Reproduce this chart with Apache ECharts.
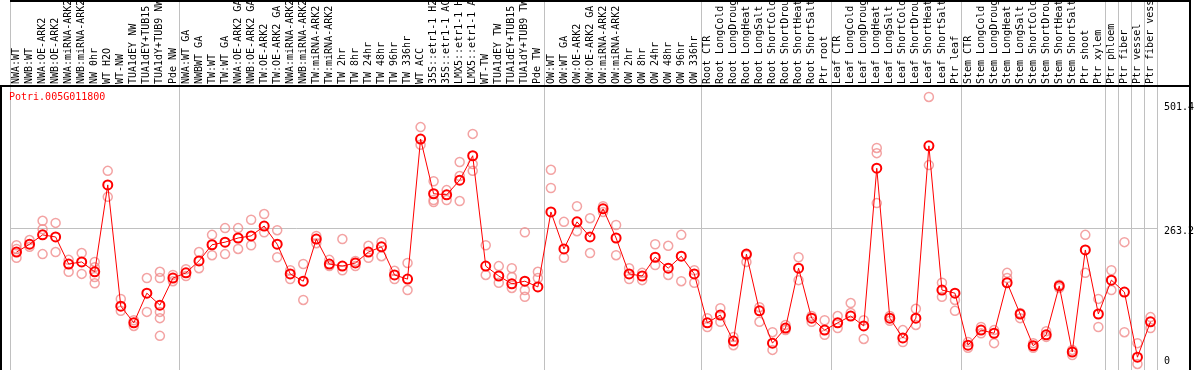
<!DOCTYPE html>
<html><head><meta charset="utf-8">
<script src="https://cdn.jsdelivr.net/npm/echarts@6/dist/echarts.min.js"></script>
<style>html,body{margin:0;padding:0;background:#fff}#c{width:1194px;height:370px}</style>
</head><body><div id="c"></div>
<script>
const geneTitle = 'Potri.005G011800';
const categories = ['NWA:WT','NWB:WT','NWA:OE-ARK2','NWB:OE-ARK2','NWA:miRNA-ARK2','NWB:miRNA-ARK2','NW 0hr','WT H2O','WT-NW','TUA1dEY NW','TUA1dEY+TUB15 NW','TUA1dY+TUB9 NW','Pde NW','NWA:WT GA','NWBWT GA','TW:WT','TW:WT GA','NWA:OE-ARK2 GA','NWB:OE-ARK2 GA','TW:OE-ARK2','TW:OE-ARK2 GA','NWA:miRNA-ARK2','NWB:miRNA-ARK2','TW:miRNA-ARK2','TW:miRNA-ARK2','TW 2hr','TW 8hr','TW 24hr','TW 48hr','TW 96hr','TW 336hr','WT ACC','35S::etr1-1 H2O','35S::etr1-1 ACC','LMX5::etr1-1 H2O','LMX5::etr1-1 ACC','WT-TW','TUA1dEY TW','TUA1dEY+TUB15 TW','TUA1dY+TUB9 TW','Pde TW','OW:WT','OW:WT GA','OW:OE-ARK2','OW:OE-ARK2 GA','OW:miRNA-ARK2','OW:miRNA-ARK2','OW 2hr','OW 8hr','OW 24hr','OW 48hr','OW 96hr','OW 336hr','Root CTR','Root LongCold','Root LongDrought','Root LongHeat','Root LongSalt','Root ShortCold','Root ShortDrought','Root ShortHeat','Root ShortSalt','Ptr root','Leaf CTR','Leaf LongCold','Leaf LongDrought','Leaf LongHeat','Leaf LongSalt','Leaf ShortCold','Leaf ShortDrought','Leaf ShortHeat','Leaf ShortSalt','Ptr leaf','Stem CTR','Stem LongCold','Stem LongDrought','Stem LongHeat','Stem LongSalt','Stem ShortCold','Stem ShortDrought','Stem ShortHeat','Stem ShortSalt','Ptr shoot','Ptr xylem','Ptr phloem','Ptr fiber','Ptr vessel','Ptr fiber vessel'];
const means = [217,232,250,246,194,198,179,346,113,81,138,115,167,177,200,231,236,244,248,267,232,175,161,242,194,190,196,217,227,173,165,434,329,327,355,402,190,171,156,161,150,294,223,275,246,300,244,175,171,207,186,209,175,81,96,46,213,104,42,71,186,90,67,81,94,75,378,90,52,90,421,144,138,38,67,61,158,98,37,58,152,25,221,98,163,140,15,83];
const replicates = [[230,223,206],[240,227],[277,261,213],[273,217],[202,179],[215,175],[198,188,169,157],[373,323],[127,104],[86,75],[167,102],[179,167,102,90,56],[173,161],[184,171],[217,186],[250,211],[263,213],[263,223],[279,230],[290,255],[259,207],[182,165],[194,125],[248,234],[202,190],[242,182],[200,190],[229,206],[236,209],[181,165],[196,144],[457,423],[353,317,313],[336,317],[390,363,315],[444,386,373],[230,173],[190,158],[186,169,148],[255,144,131],[179,167],[375,340],[275,206],[305,257],[282,215],[305,294],[269,211],[186,165],[177,163],[232,192],[229,173],[250,161],[182,158],[90,73],[109,83],[54,38],[211,198],[111,83],[63,29],[77,67],[207,163],[94,83],[86,58],[94,71],[119,100],[86,50],[417,407,311],[94,85],[67,44],[108,77],[515,384],[158,131],[125,104],[44,33],[73,61],[67,42],[177,167],[100,90],[42,33],[65,54],[154,148],[29,19],[250,177],[127,73],[182,144],[236,63],[42,2],[92,71]];
const yMin = 0, yMax = 501.4, yStep = 263.2;
const groupStarts = [0,13,41,53,63,73,84,85,86,87,88];

const repData = [];
replicates.forEach((arr, i) => arr.forEach(v => repData.push([i, v])));

const chart = echarts.init(document.getElementById('c'), null, {renderer: 'canvas'});
const mono = 'DejaVu Sans Mono';
const lblStyle = {color: '#000', fontSize: 10, fontFamily: mono};
chart.setOption({
  animation: false,
  backgroundColor: '#fff',
  title: {text: geneTitle, left: 9, top: 92, padding: 0,
    textStyle: {color: '#ff0000', fontSize: 10, fontWeight: 'normal', fontFamily: mono}},
  grid: {left: 10, right: 37, top: 104, bottom: 5, containLabel: false, outerBoundsMode: 'none'},
  xAxis: {
    type: 'category', data: categories, position: 'top', offset: 18,
    boundaryGap: true,
    axisLine: {show: false}, axisTick: {show: false}, splitLine: {show: false},
    axisLabel: {interval: 0, rotate: 90, margin: 2, color: '#000', fontSize: 10, fontFamily: mono}
  },
  yAxis: {
    type: 'value', position: 'right', min: yMin, max: yMax, interval: yStep,
    axisLine: {show: false}, axisTick: {show: false},
    splitLine: {show: true, showMinLine: false, showMaxLine: false, lineStyle: {color: '#c0c0c0', width: 1}},
    axisLabel: {margin: 7, color: '#000', fontSize: 10, fontFamily: mono,
      formatter: v => v === yMin ? '{lo|' + v + '}' : '{hi|' + v + '}',
      rich: {hi: Object.assign({padding: [7, 0, 0, 0]}, lblStyle), lo: Object.assign({padding: [0, 0, 7, 0]}, lblStyle)}}
  },
  series: [
    {type: 'scatter', data: repData, symbol: 'circle', symbolSize: 9, clip: false, z: 2,
      itemStyle: {color: 'rgba(0,0,0,0)', borderColor: '#f08c8c', borderWidth: 1.5}},
    {type: 'line', data: means, symbol: 'circle', symbolSize: 9, clip: false, z: 3,
      lineStyle: {color: '#ff0000', width: 1},
      itemStyle: {color: 'rgba(0,0,0,0)', borderColor: '#ff0000', borderWidth: 2}}
  ]
});

function cx(i) { return chart.convertToPixel({xAxisIndex: 0}, i); }
const half = (cx(1) - cx(0)) / 2;
const gfx = [];
groupStarts.forEach(g => {
  const x = Math.round((g < categories.length ? cx(g) - half : cx(categories.length - 1) + half)) + 0.5;
  gfx.push({type: 'line', shape: {x1: x, y1: 0, x2: x, y2: 370}, style: {stroke: '#c0c0c0', lineWidth: 1}, z: 1});
});
gfx.push({type: 'line', shape: {x1: 10, y1: 1, x2: 1191, y2: 1}, style: {stroke: '#000', lineWidth: 2}, z: 10});
gfx.push({type: 'line', shape: {x1: 0, y1: 86, x2: 1191, y2: 86}, style: {stroke: '#000', lineWidth: 2}, z: 10});
gfx.push({type: 'line', shape: {x1: 1, y1: 86, x2: 1, y2: 370}, style: {stroke: '#000', lineWidth: 2}, z: 10});
gfx.push({type: 'line', shape: {x1: 1190, y1: 0, x2: 1190, y2: 370}, style: {stroke: '#000', lineWidth: 2}, z: 10});
chart.setOption({graphic: gfx});
</script></body></html>
